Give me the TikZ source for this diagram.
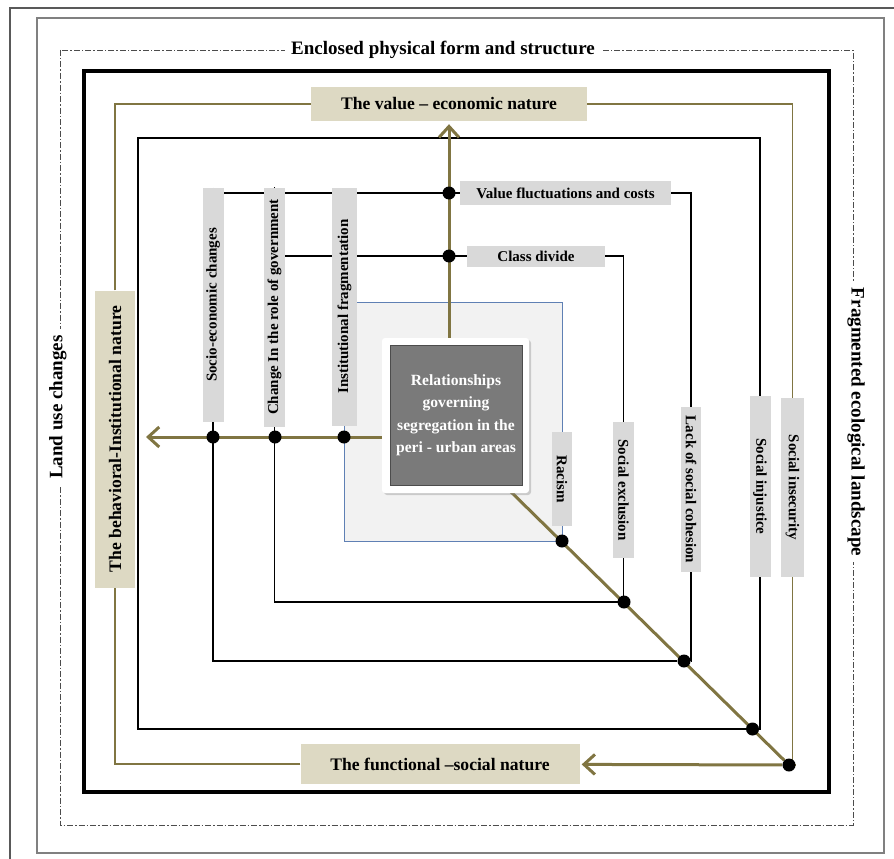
\documentclass[tikz,border=0pt]{standalone}
\usepackage{fontspec}
\setmainfont{Liberation Serif}
\usepackage{tikz}
\usetikzlibrary{calc, shapes, arrows.meta, backgrounds, shadows}

\definecolor{linekhaki}{RGB}{128,117,66}
\definecolor{boxbeige}{RGB}{221,217,195}
\definecolor{lblgray}{RGB}{217,217,217}
\definecolor{coregray}{RGB}{122,122,122}
\definecolor{ringblue}{RGB}{95,128,180}
\definecolor{ringfill}{RGB}{242,242,242}

\begin{document}
\begin{tikzpicture}[x=1pt,y=-1pt]
\tikzstyle{lbl}=[fill=lblgray,inner sep=0pt,font=\bfseries\fontsize{15}{18}\selectfont]
\tikzstyle{rlbl}=[lbl,rotate=-90,minimum height=21pt]
\tikzstyle{llbl}=[lbl,rotate=90,minimum height=21pt]
\tikzstyle{nature}=[fill=boxbeige,inner sep=0pt,font=\bfseries\fontsize{17.6}{20}\selectfont]
\tikzstyle{ttl}=[fill=white,inner xsep=6pt,inner ysep=2pt,font=\bfseries\fontsize{19}{22}\selectfont]
\tikzstyle{dot}=[circle,fill=black,minimum size=13pt,inner sep=0pt]
\tikzstyle{frame}=[line width=1.5pt]
\tikzstyle{kframe}=[line width=1.5pt,draw=linekhaki]
\tikzstyle{mainarr}=[line width=3pt,draw=linekhaki,-{Straight Barb[length=11pt,width=20pt]}]
\useasboundingbox (0,0) rectangle (894,859);

% outer titles
\node[ttl] (t_top) at (443,50) {Enclosed physical form and structure};
\node[ttl,rotate=90] (t_left) at (58,407) {Land use changes};
\node[ttl,rotate=-90] (t_right) at (856,422) {Fragmented ecological landscape};

% the three natures
\node[nature,minimum width=276pt,minimum height=34pt] (n_value) at (449,104) {The value -- economic nature};
\node[nature,minimum width=279pt,minimum height=40pt] (n_func) at (440,764) {The functional --social nature};
\node[nature,rotate=90,minimum width=297pt,minimum height=40pt] (n_beh) at (115,439) {The behavioral-Institutional nature};

% core
\node[fill=white,rounded corners=3pt,minimum width=147pt,minimum height=155pt,drop shadow={opacity=0.35,shadow xshift=2pt,shadow yshift=-2pt}] (core) at (455.5,415.5) {};
\node[fill=coregray,draw=gray!60!black,line width=0.6pt,minimum width=132pt,minimum height=140pt,text=white,align=center,
  font=\bfseries\fontsize{15.6}{22.5}\selectfont] (core_in) at (456,415) {Relationships\\governing\\segregation in the\\peri - urban areas};

% labels
\node[lbl,minimum width=211pt,minimum height=24pt] (h_val) at (565.5,193) {Value fluctuations and costs};
\node[lbl,minimum width=138pt,minimum height=21pt] (h_cls) at (536,256) {Class divide};
\node[llbl,minimum width=234pt] (l_soc) at (213,305) {Socio-economic changes};
\node[llbl,minimum width=239pt] (l_chg) at (274.5,307) {Change In the role of government};
\node[llbl,minimum width=238pt,minimum height=25pt] (l_ins) at (344.5,306.5) {Institutional fragmentation};
\node[rlbl,minimum width=94pt,minimum height=20pt] (r_rac) at (562,479) {Racism};
\node[rlbl,minimum width=136pt] (r_exc) at (623.5,490) {Social exclusion};
\node[rlbl,minimum width=165pt,minimum height=20pt] (r_lack) at (691,489.5) {Lack of social cohesion};
\node[rlbl,minimum width=181pt] (r_inj) at (760,486.5) {Social injustice\hspace{22pt}};
\node[rlbl,minimum width=179pt,minimum height=23pt] (r_ins) at (792.5,487.5) {Social insecurity\hspace{22pt}};

% dots
\node[dot] (dv1) at (449,193) {};
\node[dot] (dv2) at (449,256) {};
\node[dot] (dh1) at (213,437) {};
\node[dot] (dh2) at (275,437) {};
\node[dot] (dh3) at (344,437) {};
\node[dot] (d_rac) at (562,541) {};
\node[dot] (d_exc) at (624,602) {};
\node[dot] (d_lack) at (684,661) {};
\node[dot] (d_inj) at (752.5,729) {};
\node[dot] (d_ins) at (789,765) {};

\coordinate (A_tl) at (138,138);
\coordinate (tipL) at (146,437);
\coordinate (diagS) at (506,487);

\begin{scope}[on background layer]
\draw[gray!70!black,line width=1.8pt] (10,859) -- (10,8) -- (894,8);
\draw[gray,line width=1.2pt] (37,18) rectangle (884,853);
\draw[gray!60!black,line width=0.8pt,dash pattern=on 6pt off 2pt on 1.5pt off 2pt] (60,50) rectangle (853,825);
\draw[line width=4pt] (84,71) rectangle (829,792);
\draw[ringblue,fill=ringfill,line width=0.9pt] (344,302) rectangle (562,541);
% black rings
\draw[frame] (r_inj) |- (A_tl) |- (d_inj);
\draw[frame] (r_inj) |- (d_inj);
\draw[frame] (l_soc) |- (h_val);
\draw[frame] (h_val) -| (r_lack);
\draw[frame] (r_lack) |- (d_lack);
\draw[frame] (d_lack) -| (l_soc);
\draw[frame] (l_chg) |- (h_cls);
\draw[frame] (h_cls) -| (r_exc);
\draw[frame] (r_exc) |- (d_exc);
\draw[frame] (d_exc) -| (l_chg);
% khaki ring
\draw[kframe] (n_value) -| (r_ins);
\draw[kframe] (r_ins) |- (d_ins);
\draw[kframe] (n_func) -| (n_beh);
\draw[kframe] (n_beh) |- (n_value);
% main axes
\draw[mainarr] (core.north -| dv1) -- ([yshift=-3pt]n_value.south -| dv1);
\draw[mainarr] (core.west |- dh3) -- (tipL);
\draw[line width=3pt,draw=linekhaki] (diagS) -- (d_ins);
\draw[mainarr,shorten >=2pt] (d_ins) -- (n_func);
\end{scope}
\end{tikzpicture}
\end{document}
